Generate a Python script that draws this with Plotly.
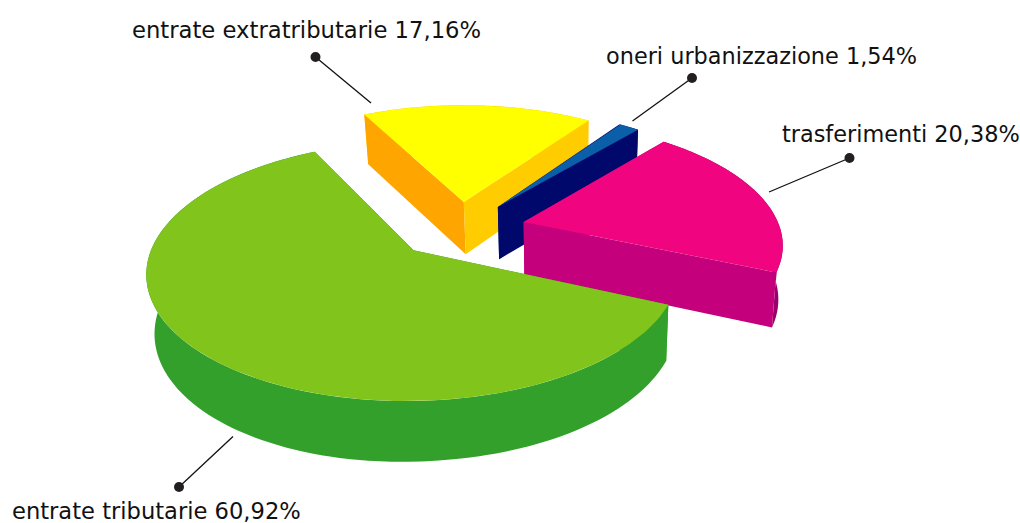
import numpy as np
import plotly.graph_objects as go

names = ["entrate extratributarie", "oneri urbanizzazione", "trasferimenti", "entrate tributarie"]
values = [17.16, 1.54, 20.38, 60.92]
value_labels = ["17,16%", "1,54%", "20,38%", "60,92%"]

# slice angles come from the values
edges = np.radians(np.concatenate([[0], np.cumsum(values)]) / sum(values) * 360)

# projection of the pie plane on the page
PROJ = (-53.4024, 267.243, 413.548, -76.6686, -39.4397, 250.255, 0.144227, 0.0718257)
# how far each slice is pulled out, in pie radii
EXPLODE = [(0.27403, 0.35566), (0.17354, 0.45803), (0.012148, 0.4862), (0.0, 0.0)]

def project(u, v):
    a, b, c, d, e, f, g, i = PROJ
    w = g*u + i*v + 1
    return (a*u + b*v + c)/w, (d*u + e*v + f)/w

def lower(x, y):
    return x + (560 - x)*0.02, y + 44 + 0.04*y + np.maximum(0, 450 - x)*0.014

STYLES = [dict(top="#FFFF00", rim="#FFCC00", a="#FFA500", b="#FFCC00"),
          dict(top="#0A5FA8", rim="#00096B", a="#00096B", b="#00096B"),
          dict(top="#F0047F", rim="#99006A", a="#C4007C", b="#C4007C"),
          dict(top="#80C41C", rim="#33A02C", a="#33A02C", b="#33A02C")]

fig = go.Figure()

def poly(x, y, c, name):
    fig.add_trace(go.Scatter(x=list(x), y=list(y), fill="toself", fillcolor=c, mode="lines",
                             line=dict(width=0), name=name, hoverinfo="name", showlegend=False))

for k, name in enumerate(names):
    t = np.linspace(edges[k], edges[k+1], 200)
    ou, ov = EXPLODE[k]
    xr, yr = project(ou + np.cos(t), ov + np.sin(t))
    xc, yc = project(ou, ov)
    xb, yb = lower(xr, yr)
    xcb, ycb = lower(xc, yc)
    s = STYLES[k]
    # outer wall as overlapping strips, so the silhouette is the sweep of the rim
    qx, qy = [], []
    for j in range(len(t) - 2):
        qx += [xr[j], xr[j+2], xb[j+2], xb[j], None]
        qy += [yr[j], yr[j+2], yb[j+2], yb[j], None]
    poly(qx, qy, s["rim"], name)
    poly([xc, xr[0], xb[0], xcb], [yc, yr[0], yb[0], ycb], s["a"], name)
    poly([xc, xr[-1], xb[-1], xcb], [yc, yr[-1], yb[-1], ycb], s["b"], name)
    poly(np.r_[xc, xr], np.r_[yc, yr], s["top"], name)

# leader lines: from the dot to the slice, and label anchor
LEADERS = [((315.5, 57), (371, 103)), ((692, 78), (632.5, 121)), ((849.5, 158), (769, 192)), ((179, 487), (233, 436.5))]
LABEL_POS = [(130, 30), (604, 56), (780, 134), (10, 511)]
LABEL_SIZE = [22.7, 22.4, 22.4, 22.6]

shapes = []
annotations = []
for k, name in enumerate(names):
    (dx, dy), (ex, ey) = LEADERS[k]
    shapes.append(dict(type="line", x0=dx, y0=dy, x1=ex, y1=ey, xref="x", yref="y", line=dict(color="#111111", width=1.3)))
    shapes.append(dict(type="circle", x0=dx-5, x1=dx+5, y0=dy-5, y1=dy+5, xref="x", yref="y",
                       fillcolor="#231F20", line=dict(width=0)))
    lx, ly = LABEL_POS[k]
    annotations.append(dict(x=lx, y=ly, xref="x", yref="y", xanchor="left", yanchor="middle", showarrow=False,
                            text=f"{name} {value_labels[k]}", font=dict(size=LABEL_SIZE[k], family="DejaVu Sans", color="#111111")))

fig.update_layout(width=1020, height=523, margin=dict(l=0, r=0, t=0, b=0), paper_bgcolor="white", plot_bgcolor="white",
                  xaxis=dict(range=[0, 1020], visible=False), yaxis=dict(range=[523, 0], visible=False),
                  shapes=shapes, annotations=annotations, showlegend=False)
fig.write_html("out.html", config=dict(displayModeBar=False),
               post_script="document.body.style.margin='0';document.body.style.overflow='hidden';")
